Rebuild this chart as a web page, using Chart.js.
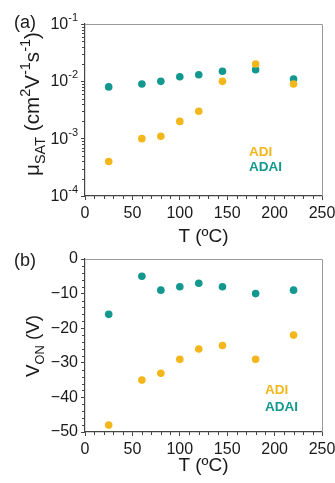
<!DOCTYPE html>
<html><head><meta charset="utf-8">
<script src="https://cdn.jsdelivr.net/npm/chart.js@4/dist/chart.umd.min.js"></script>
<style>
html,body{margin:0;padding:0;background:#fff;}
#wrap{position:relative;width:335px;height:483px;overflow:hidden;background:#fff;}
canvas{position:absolute;left:0;}
#c1{top:0;} #c2{top:235px;}
</style></head><body>
<div id="wrap"><canvas id="c1" width="335" height="250"></canvas><canvas id="c2" width="335" height="248"></canvas></div>
<script>
// ---- data ----
const temperatures = [25, 60, 80, 100, 120, 145, 180, 220];
const muADI  = [4e-4, 1e-3, 1.1e-3, 2e-3, 3e-3, 1e-2, 2e-2, 9e-3];
const muADAI = [8e-3, 9e-3, 1e-2, 1.2e-2, 1.3e-2, 1.5e-2, 1.6e-2, 1.1e-2];
const vonADI  = [-48, -35, -33, -29, -26, -25, -29, -22];
const vonADAI = [-16, -5, -9, -8, -7, -8, -10, -9];
const seriesNames = ['ADI', 'ADAI'];
const xTicks = [0, 50, 100, 150, 200, 250];
const muTicks = [1e-4, 1e-3, 1e-2, 1e-1];
const vonTicks = [-50, -40, -30, -20, -10, 0];
const xTitle = 'T (ºC)';
const panelLabels = ['(a)', '(b)'];

// ---- styles ----
const YELLOW = '#F3B71B';
const TEAL = '#12988E';
const TXT = '#1a1a1a';
const AXIS = '#454545';
const FRAME = '#9a9a9a';
const FONT = "'Liberation Sans', Arial, Helvetica, sans-serif";

function pts(ys) { return temperatures.map((t, i) => ({x: t, y: ys[i]})); }

function drawRich(ctx, parts, bx, cy, main, small, target) {
  ctx.save();
  ctx.fillStyle = TXT;
  ctx.textBaseline = 'alphabetic';
  ctx.textAlign = 'left';
  const measure = (m, s) => {
    let total = 0;
    parts.forEach(p => {
      ctx.font = (p.sub || p.sup ? s : m) + 'px ' + FONT;
      p.w = ctx.measureText(p.t).width;
      total += p.w;
    });
    return total;
  };
  let total = measure(main, small);
  if (target) {
    const f = target / total;
    main *= f; small *= f;
    total = measure(main, small);
  }
  ctx.translate(bx, cy);
  ctx.rotate(-Math.PI / 2);
  let x = -total / 2;
  parts.forEach(p => {
    ctx.font = (p.sub || p.sup ? small : main) + 'px ' + FONT;
    const dy = p.sub ? main * 0.28 : (p.sup ? -main * 0.42 : 0);
    ctx.fillText(p.t, x, dy);
    x += p.w;
  });
  ctx.restore();
}

const decor = {
  id: 'decor',
  afterDraw(chart, args, o) {
    const ctx = chart.ctx;
    const ca = chart.chartArea;
    const xs = chart.scales.x, ys = chart.scales.y;
    ctx.save();
    // frame top/right
    ctx.strokeStyle = FRAME; ctx.lineWidth = 1;
    ctx.beginPath();
    ctx.moveTo(ca.left, ca.top + 0.5); ctx.lineTo(ca.right + 0.5, ca.top + 0.5);
    ctx.lineTo(ca.right + 0.5, ca.bottom);
    ctx.stroke();
    // minor ticks
    ctx.strokeStyle = AXIS; ctx.lineWidth = 1;
    ctx.beginPath();
    for (let i = 0; i < xTicks.length - 1; i++) {
      const a = xTicks[i], b = xTicks[i + 1];
      for (let k = 1; k < 5; k++) {
        const px = Math.round(xs.getPixelForValue(a + (b - a) * k / 5)) + 0.5;
        ctx.moveTo(px, ca.bottom); ctx.lineTo(px, ca.bottom + 3);
      }
    }
    const yt = o.yTicks;
    for (let i = 0; i < yt.length - 1; i++) {
      const a = yt[i], b = yt[i + 1];
      if (o.log) {
        for (let m = 2; m < 10; m++) {
          const py = Math.round(ys.getPixelForValue(a * m)) + 0.5;
          ctx.moveTo(ca.left, py); ctx.lineTo(ca.left - 3, py);
        }
      } else {
        for (let k = 1; k < 5; k++) {
          const py = Math.round(ys.getPixelForValue(a + (b - a) * k / 5)) + 0.5;
          ctx.moveTo(ca.left, py); ctx.lineTo(ca.left - 3, py);
        }
      }
    }
    ctx.stroke();
    // log tick labels 10^n
    if (o.log) {
      ctx.fillStyle = TXT;
      ctx.textBaseline = 'middle';
      yt.forEach(v => {
        const py = ys.getPixelForValue(v);
        const e = Math.round(Math.log10(v));
        ctx.font = '11px ' + FONT;
        ctx.textAlign = 'right';
        const sup = '-' + Math.abs(e);
        const sw = ctx.measureText(sup).width;
        const rx = ca.left - 7;
        ctx.fillText(sup, rx, py - 6);
        ctx.font = '16px ' + FONT;
        ctx.fillText('10', rx - sw, py + 0.5);
      });
    }
    // y title
    drawRich(ctx, o.yTitle, o.titleX, o.titleY, o.titleMain, o.titleSmall, o.titleLen);
    // panel label
    ctx.fillStyle = TXT;
    ctx.font = '18px ' + FONT;
    ctx.textAlign = 'left'; ctx.textBaseline = 'middle';
    ctx.fillText(o.panel, 14, o.panelY);
    // legend text
    ctx.font = 'bold 13.5px ' + FONT;
    chart.data.datasets.forEach((ds, i) => {
      ctx.fillStyle = ds.backgroundColor;
      ctx.fillText(ds.label, ca.left + o.legX, ca.top + o.legY + i * o.legGap);
    });
    ctx.restore();
  }
};

function makeChart(id, cfg) {
  const H = document.getElementById(id).height;
  return new Chart(document.getElementById(id), {
    type: 'scatter',
    data: {
      datasets: [
        {label: seriesNames[0], data: pts(cfg.a), backgroundColor: YELLOW, borderWidth: 0, pointRadius: 3.8, pointHoverRadius: 3.8},
        {label: seriesNames[1], data: pts(cfg.b), backgroundColor: TEAL, borderWidth: 0, pointRadius: 3.8, pointHoverRadius: 3.8}
      ]
    },
    options: {
      responsive: false, animation: false, devicePixelRatio: 1,
      layout: {padding: {left: 0, right: 13, top: 24, bottom: 0}},
      plugins: {legend: {display: false}, tooltip: {enabled: false}, decor: cfg.decor},
      scales: {
        x: {
          type: 'linear', min: 0, max: 250,
          afterBuildTicks: s => { s.ticks = xTicks.map(v => ({value: v})); },
          afterFit: s => { s.height = H - cfg.bottom; s.paddingLeft = 0; s.paddingRight = 0; },
          ticks: {autoSkip: false, maxRotation: 0, padding: 4, color: TXT, font: {family: FONT, size: 16}},
          grid: {display: true, drawOnChartArea: false, drawTicks: true, tickLength: 4, tickColor: AXIS, tickWidth: 1},
          border: {display: true, color: AXIS, width: 1.2},
          title: {display: true, text: xTitle, color: TXT, font: {family: FONT, size: 19}, padding: {top: 0, bottom: cfg.xTitlePad}}
        },
        y: cfg.y
      }
    },
    plugins: [decor]
  });
}

makeChart('c1', {
  a: muADI, b: muADAI, bottom: 196, xTitlePad: 1.6,
  y: {
    type: 'logarithmic', min: 1e-4, max: 1e-1,
    afterBuildTicks: s => { s.ticks = muTicks.map(v => ({value: v})); },
    afterFit: s => { s.width = 85; },
    ticks: {autoSkip: false, callback: () => '', font: {family: FONT, size: 16}},
    grid: {display: true, drawOnChartArea: false, drawTicks: true, tickLength: 4, tickColor: AXIS, tickWidth: 1},
    border: {display: true, color: AXIS, width: 1.2}
  },
  decor: {
    log: true, yTicks: muTicks, panel: panelLabels[0], panelY: 23,
    yTitle: [{t: 'μ'}, {t: 'SAT', sub: 1}, {t: ' (cm'}, {t: '2', sup: 1}, {t: 'V'}, {t: '-1', sup: 1}, {t: 's'}, {t: '-1', sup: 1}, {t: ')'}],
    titleX: 39, titleY: 104, titleMain: 20, titleSmall: 14, titleLen: 144,
    legX: 164, legY: 128, legGap: 15.5
  }
});

makeChart('c2', {
  a: vonADI, b: vonADAI, bottom: 197, xTitlePad: 6.3,
  y: {
    type: 'linear', min: -50, max: 0,
    afterBuildTicks: s => { s.ticks = vonTicks.map(v => ({value: v})); },
    afterFit: s => { s.width = 85; },
    ticks: {autoSkip: false, padding: 3, color: TXT, font: {family: FONT, size: 16},
      callback: v => v < 0 ? '\u2212' + Math.abs(v) : String(v)},
    grid: {display: true, drawOnChartArea: false, drawTicks: true, tickLength: 4, tickColor: AXIS, tickWidth: 1},
    border: {display: true, color: AXIS, width: 1.2}
  },
  decor: {
    log: false, yTicks: vonTicks, panel: panelLabels[1], panelY: 26,
    yTitle: [{t: 'V'}, {t: 'ON', sub: 1}, {t: ' (V)'}],
    titleX: 39, titleY: 111, titleMain: 19, titleSmall: 13, titleLen: 62,
    legX: 180, legY: 131, legGap: 17
  }
});
</script>
</body></html>
